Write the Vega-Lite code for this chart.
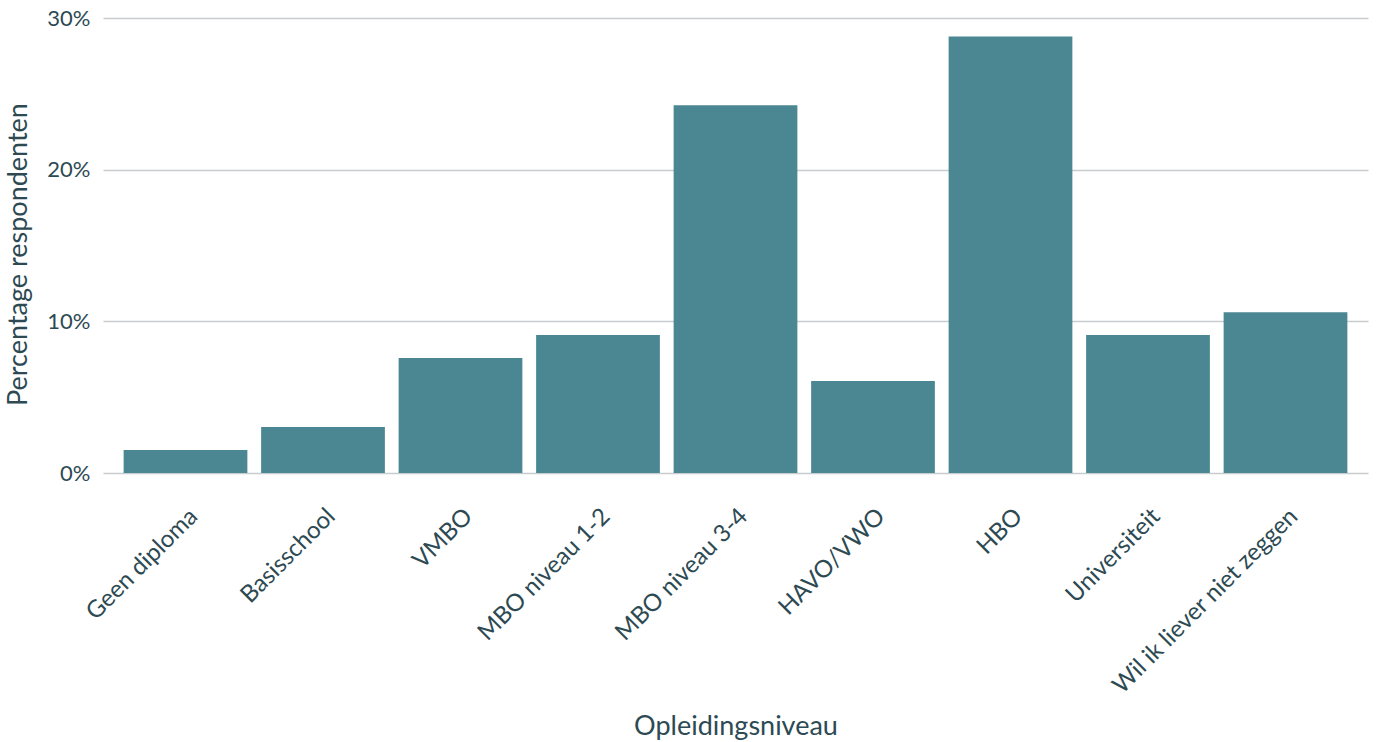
{
  "$schema": "https://vega.github.io/schema/vega-lite/v6.json",
  "autosize": {"type": "none"},
  "width": 1265,
  "height": 455,
  "padding": {"left": 103, "top": 18, "right": 9, "bottom": 269},
  "background": "white",
  "config": {
    "font": "Lato",
    "view": {"stroke": null},
    "axis": {
      "labelFont": "Lato",
      "titleFont": "Lato",
      "labelColor": "#2d4a53",
      "titleColor": "#2d4a53",
      "labelFontSize": 22,
      "titleFontSize": 27,
      "titleFontWeight": "normal",
      "domain": false,
      "ticks": false
    }
  },
  "data": {
    "values": [
      {"niveau": "Geen diploma", "pct": 0.01515},
      {"niveau": "Basisschool", "pct": 0.0303},
      {"niveau": "VMBO", "pct": 0.07576},
      {"niveau": "MBO niveau 1-2", "pct": 0.09091},
      {"niveau": "MBO niveau 3-4", "pct": 0.24242},
      {"niveau": "HAVO/VWO", "pct": 0.06061},
      {"niveau": "HBO", "pct": 0.28788},
      {"niveau": "Universiteit", "pct": 0.09091},
      {"niveau": "Wil ik liever niet zeggen", "pct": 0.10606}
    ]
  },
  "mark": {"type": "bar", "color": "#4a8793"},
  "encoding": {
    "x": {
      "field": "niveau",
      "type": "nominal",
      "sort": null,
      "title": "Opleidingsniveau",
      "scale": {"paddingInner": 0.1, "paddingOuter": 0.15},
      "axis": {"labelAngle": -45, "labelAlign": "right", "labelBaseline": "top", "labelPadding": 31, "labelLimit": 0, "labelFontSize": 24, "titlePadding": 40, "grid": false}
    },
    "y": {
      "field": "pct",
      "type": "quantitative",
      "title": "Percentage respondenten",
      "scale": {"domain": [0, 0.3]},
      "axis": {"format": ".0%", "values": [0, 0.1, 0.2, 0.3], "grid": true, "gridColor": "#c8cccd", "gridWidth": 1.5, "labelPadding": 13, "titlePadding": 14, "titleY": 236}
    }
  }
}
